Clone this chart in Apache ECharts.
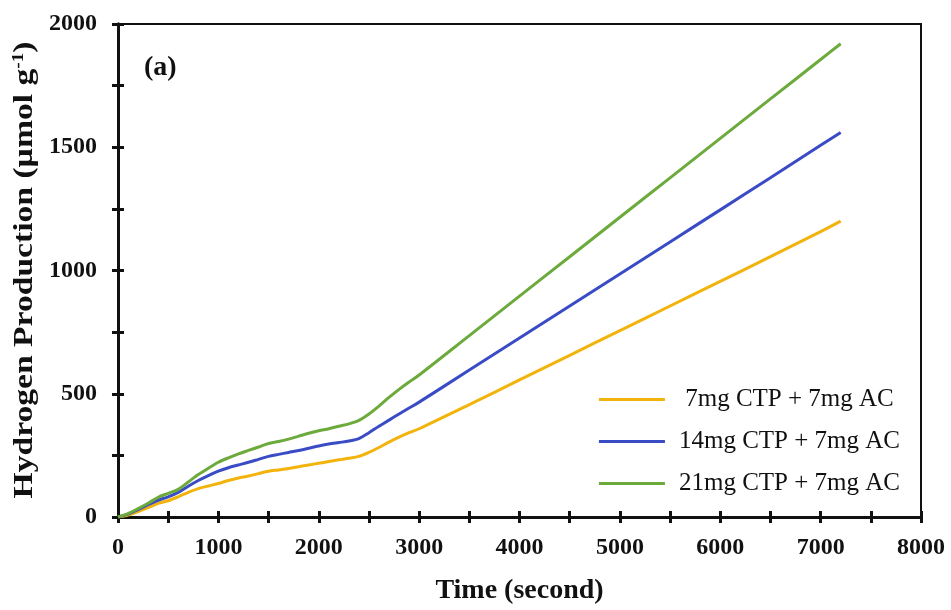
<!DOCTYPE html>
<html>
<head>
<meta charset="utf-8">
<script src="https://cdn.jsdelivr.net/npm/echarts@6/dist/echarts.min.js"></script>
<style>
  html, body { margin: 0; padding: 0; background: #fff; }
  #chart { width: 951px; height: 610px; }
</style>
</head>
<body>
<div id="chart"></div>
<script>
// Time (s) and cumulative hydrogen production (µmol g-1) for each loading
const timeSec = [0, 100, 200, 300, 400, 500, 600, 700, 800, 900, 1000, 1100, 1200, 1300, 1400, 1500,
  1600, 1700, 1800, 1900, 2000, 2100, 2200, 2300, 2400, 2500, 2600, 2700, 2800, 2900, 3000,
  3500, 4000, 4500, 5000, 5500, 6000, 6500, 7000, 7200];
const ctp7 = [0, 8, 22, 38, 55, 66, 82, 100, 115, 126, 136, 148, 158, 166, 176, 186,
  191, 197, 204, 211, 218, 225, 232, 238, 246, 262, 282, 304, 324, 342, 358,
  456, 556, 656, 756, 856, 956, 1056, 1158, 1200];
const ctp14 = [0, 12, 30, 50, 68, 82, 100, 125, 148, 168, 186, 200, 211, 222, 234, 246,
  254, 262, 270, 279, 288, 296, 302, 308, 318, 342, 368, 393, 418, 442, 466,
  596, 726, 856, 986, 1116, 1246, 1376, 1508, 1560];
const ctp21 = [0, 14, 34, 56, 80, 96, 112, 142, 172, 198, 222, 240, 256, 270, 284, 298,
  306, 316, 328, 340, 350, 358, 368, 378, 392, 418, 450, 485, 518, 548, 576,
  736, 896, 1056, 1216, 1376, 1536, 1696, 1856, 1920];

const seriesNames = [' 7mg CTP + 7mg AC', '14mg CTP + 7mg AC', '21mg CTP + 7mg AC'];
const seriesColors = ['#F2B40C', '#3A4BC6', '#6CAA3C'];
const seriesValues = [ctp7, ctp14, ctp21];

const xTickLabels = [0, 1000, 2000, 3000, 4000, 5000, 6000, 7000, 8000];
const yTickLabels = [0, 500, 1000, 1500, 2000];

const serif = '"Liberation Serif", "Times New Roman", serif';
const ink = '#111';

const chart = echarts.init(document.getElementById('chart'));

const axisCommon = {
  axisLine: { show: true, onZero: false, lineStyle: { color: ink, width: 3 } },
  splitLine: { show: false }
};
const tickStyle = { color: ink, width: 3 };

chart.setOption({
  backgroundColor: '#fff',
  animation: false,
  grid: {
    left: 118, right: 30, top: 24, bottom: 92,
    show: true, borderColor: ink, borderWidth: 2, backgroundColor: 'transparent'
  },
  legend: {
    orient: 'vertical',
    right: 46, top: 382,
    itemWidth: 66, itemHeight: 3, itemGap: 17,
    icon: 'rect',
    textStyle: { fontFamily: serif, fontSize: 25, color: ink, padding: [0, 0, 0, 9] },
    data: seriesNames
  },
  xAxis: [
    Object.assign({}, axisCommon, {
      type: 'value', position: 'bottom', min: 0, max: 8000, interval: 500,
      name: 'Time (second)', nameLocation: 'middle', nameGap: 60,
      nameTextStyle: { fontFamily: serif, fontSize: 28, fontWeight: 'bold', color: ink },
      axisTick: { show: true, inside: false, length: 6, lineStyle: tickStyle },
      axisLabel: {
        margin: 19, fontFamily: serif, fontSize: 24, fontWeight: 'bold', color: ink,
        formatter: v => (xTickLabels.indexOf(v) >= 0 ? String(v) : '')
      }
    }),
    Object.assign({}, axisCommon, {
      type: 'value', position: 'bottom', min: 0, max: 8000, interval: 500,
      axisTick: { show: true, inside: true, length: 6, lineStyle: tickStyle },
      axisLabel: { show: false }
    })
  ],
  yAxis: [
    Object.assign({}, axisCommon, {
      type: 'value', position: 'left', min: 0, max: 2000, interval: 250,
      axisTick: { show: true, inside: false, length: 6, lineStyle: tickStyle },
      axisLabel: {
        margin: 21, fontFamily: serif, fontSize: 24, fontWeight: 'bold', color: ink,
        formatter: v => (yTickLabels.indexOf(v) >= 0 ? String(v) : '')
      }
    }),
    Object.assign({}, axisCommon, {
      type: 'value', position: 'left', min: 0, max: 2000, interval: 250,
      axisTick: { show: true, inside: true, length: 6, lineStyle: tickStyle },
      axisLabel: { show: false }
    })
  ],
  graphic: [
    {
      type: 'text', left: 144, top: 54,
      style: { text: '(a)', font: 'bold 28px ' + serif, fill: ink }
    },
    {
      // vertical axis title, stretched along its length
      type: 'text', x: 25, y: 270, rotation: Math.PI / 2, scaleX: 1.2,
      style: {
        text: '{t|Hydrogen Production (µmol g}{s|-1}{t|)}',
        align: 'center', verticalAlign: 'middle',
        rich: {
          t: { font: 'bold 28px ' + serif, fill: ink },
          s: { font: 'bold 16px ' + serif, fill: ink, verticalAlign: 'top', padding: [0, 0, 12, 0] }
        }
      }
    }
  ],
  series: seriesValues.map((vals, i) => ({
    name: seriesNames[i],
    type: 'line',
    xAxisIndex: 0, yAxisIndex: 0,
    smooth: 0.3,
    showSymbol: false,
    color: seriesColors[i],
    lineStyle: { width: 3, color: seriesColors[i] },
    data: timeSec.map((t, k) => [t, vals[k]])
  }))
});
</script>
</body>
</html>
